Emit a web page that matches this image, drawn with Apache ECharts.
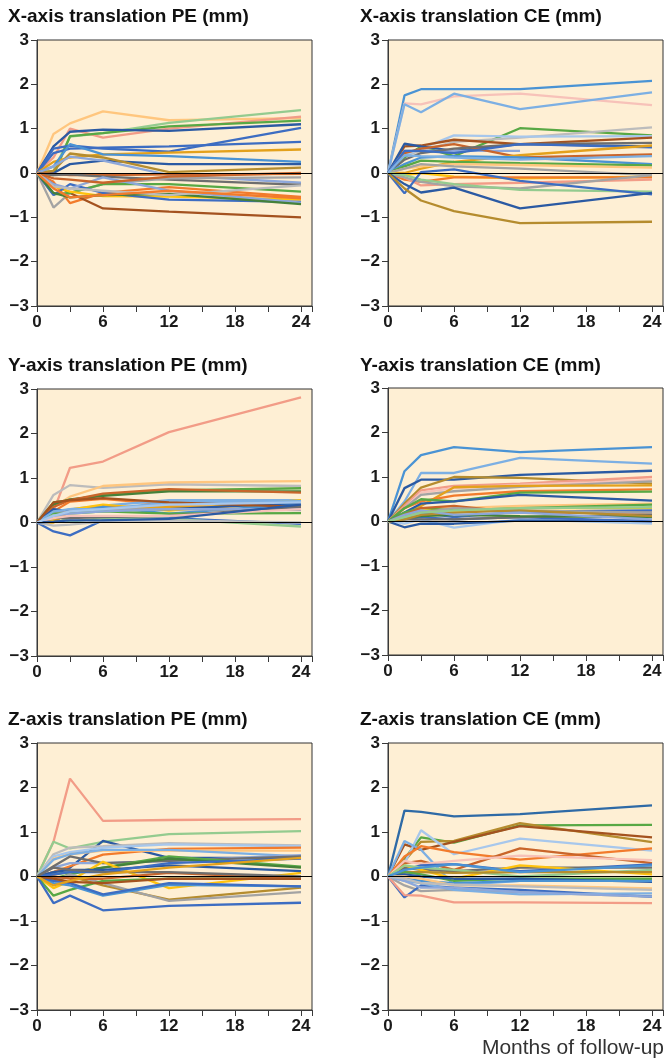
<!DOCTYPE html>
<html>
<head>
<meta charset="utf-8">
<script src="https://cdn.jsdelivr.net/npm/echarts@6/dist/echarts.min.js"></script>
<style>html,body{margin:0;padding:0;background:#fff}#c{width:668px;height:1063px}</style>
</head>
<body>
<div id="c"></div>
<script>
// ---------- data ----------
const months = [0, 1.5, 3, 6, 12, 24];
const xTickLabels = [0, 6, 12, 18, 24];
const yTickLabels = [-3, -2, -1, 0, 1, 2, 3];
const titles = [
  'X-axis translation PE (mm)', 'X-axis translation CE (mm)',
  'Y-axis translation PE (mm)', 'Y-axis translation CE (mm)',
  'Z-axis translation PE (mm)', 'Z-axis translation CE (mm)'
];
const xAxisName = 'Months of follow-up';

const xPE = [
  [0,0.88,1.12,1.39,1.19,1.24],[0,0.05,0.82,0.9,1.13,1.42],[0,0.35,1.0,0.8,1.0,1.27],
  [0,-0.05,0.83,0.9,1.05,1.18],[0,0.6,0.93,0.98,0.95,1.1],[0,0.55,0.62,0.55,0.48,1.02],
  [0,0.45,0.55,0.57,0.6,0.7],[0,0.25,0.35,0.42,0.46,0.53],[0,0.15,0.65,0.42,0.38,0.25],
  [0,0.0,0.2,0.28,0.2,0.2],[0,0.05,0.44,0.35,0.02,0.12],[0,0.15,0.37,0.28,-0.05,-0.22],
  [0,-0.02,-0.05,-0.05,-0.03,-0.02],[0,-0.05,-0.03,-0.08,-0.15,-0.27],[0,-0.78,-0.45,-0.25,-0.12,-0.1],
  [0,-0.2,-0.68,-0.45,-0.32,-0.54],[0,-0.25,-0.45,-0.8,-0.87,-1.0],[0,-0.48,-0.45,-0.25,-0.25,-0.42],
  [0,-0.3,-0.42,-0.52,-0.53,-0.6],[0,-0.5,-0.25,-0.45,-0.6,-0.65],[0,-0.25,-0.35,-0.1,-0.4,-0.67],
  [0,-0.45,-0.55,-0.5,-0.47,-0.7],[0,-0.12,-0.15,-0.22,-0.08,0.0],[0,-0.3,-0.35,-0.4,-0.5,-0.28],
  [0,-0.35,-0.55,-0.5,-0.4,-0.57]
];
const xPEColors = ['peach','lgreen','salmon','green','dblue','blue','blue','gold','sblue','dblue','olive','gblue',
  'brorange','dgray','gray','orange','brown','green','yellow','blue','gblue','dgreen','brorange','lgray','orange'];

const xCE = [
  [0,1.75,1.89,1.89,1.89,2.08],[0,1.57,1.55,1.73,1.79,1.53],[0,1.55,1.37,1.79,1.44,1.82],
  [0,0.35,0.6,0.38,1.01,0.85],[0,0.4,0.5,0.7,0.8,1.03],[0,0.4,0.55,0.85,0.82,0.83],
  [0,0.6,0.62,0.75,0.65,0.8],[0,0.66,0.6,0.5,0.65,0.6],[0,0.5,0.5,0.5,0.5,null],
  [0,0.45,0.55,0.65,0.35,0.42],[0,0.3,0.45,0.55,0.65,0.68],[0,0.5,0.5,0.45,0.65,0.58],
  [0,0.0,0.1,0.25,0.4,0.62],[0,0.2,0.35,0.38,0.35,0.2],[0,0.15,0.28,0.25,0.22,0.17],
  [0,0.1,0.15,0.2,0.18,0.12],[0,0.1,0.2,0.15,0.1,-0.05],[0,-0.05,0.0,-0.08,-0.12,-0.08],
  [0,-0.15,-0.2,-0.1,-0.1,-0.1],[0,-0.1,-0.28,-0.25,-0.22,-0.15],[0,-0.1,-0.2,-0.3,-0.35,-0.05],
  [0,-0.05,-0.15,-0.25,-0.38,-0.42],[0,-0.46,0.02,0.08,-0.18,-0.48],[0,-0.25,-0.44,-0.33,-0.8,-0.45],
  [0,-0.35,-0.62,-0.86,-1.13,-1.1],[0,0.4,0.38,0.35,0.3,0.38]
];
const xCEColors = ['sblue','pink','lblue','green','lgray','llblue','brown','dblue','gblue','brorange','dgray','blue',
  'gold','sblue','green','peach','gray','yellow','orange','salmon','gray','lgreen','blue','dblue','olive','lblue'];

const yPE = [
  [0,0.25,1.23,1.37,2.03,2.81],[0,0.62,0.84,0.78,0.86,0.82],[0,0.35,0.58,0.82,0.9,0.93],
  [0,0.45,0.5,0.62,0.72,0.77],[0,0.4,0.52,0.6,0.7,0.7],[0,0.35,0.5,0.65,0.75,0.67],
  [0,0.25,0.47,0.53,0.4,0.44],[0,0.2,0.3,0.38,0.5,0.5],[0,0.05,0.29,0.4,0.27,0.5],
  [0,0.0,0.25,0.35,0.35,0.38],[0,0.2,0.22,0.35,0.2,0.42],[0,0.3,0.25,0.3,0.3,0.44],
  [0,0.2,0.25,0.3,0.3,0.28],[0,0.2,0.2,0.25,0.2,0.21],[0,-0.2,-0.29,0.05,0.1,-0.03],
  [0,0.17,0.02,0.1,0.08,-0.09],[0,-0.07,-0.05,0.02,0.05,0.0],[0,0.15,0.2,0.25,0.3,0.3],
  [0,0.25,0.3,0.3,0.45,0.48],[0,0.45,0.5,0.55,0.45,0.35],[0,0.1,0.1,0.12,0.15,0.35],
  [0,0.1,0.15,0.15,0.15,0.3],[0,0.02,0.05,0.05,0.08,0.4],[0,0.15,0.25,0.3,0.4,0.45]
];
const yPEColors = ['salmon','lgray','peach','green','dgreen','brorange','orange','lblue','yellow','gold','sblue','dblue',
  'gray','green','blue','lgreen','lgray','gblue','lblue','brown','dgray','pink','dblue','llblue'];

const yCE = [
  [0,1.13,1.49,1.67,1.56,1.67],[0,0.45,1.09,1.09,1.43,1.3],[0,0.75,0.94,0.94,1.05,1.14],
  [0,0.4,0.76,1.0,0.98,0.85],[0,0.35,0.7,0.8,0.85,1.0],[0,0.3,0.65,0.75,0.82,0.93],
  [0,0.3,0.6,0.68,0.78,0.9],[0,0.15,0.35,0.77,0.8,0.81],[0,0.3,0.45,0.58,0.68,0.72],
  [0,0.3,0.5,0.45,0.65,0.67],[0,0.2,0.4,0.45,0.6,0.47],[0,0.15,0.3,0.3,0.35,0.4],
  [0,0.2,0.3,0.25,0.3,0.38],[0,0.1,0.25,0.22,0.3,0.3],[0,0.15,0.3,0.35,0.2,0.2],
  [0,0.1,0.2,0.1,0.22,0.25],[0,-0.05,0.05,-0.14,0.05,-0.05],[0,-0.13,-0.05,-0.05,0.02,0.02],
  [0,0.05,0.1,0.05,0.1,0.0],[0,0.05,0.05,0.05,0.1,0.15],[0,0.08,0.12,0.15,0.12,0.1],
  [0,0.1,0.2,0.3,0.25,0.2],[0,0.05,0.15,0.2,0.25,0.12],[0,0.15,0.25,0.15,0.2,0.05],
  [0,0.1,0.2,0.25,0.3,0.32]
];
const yCEColors = ['sblue','lblue','dblue','olive','salmon','pink','gray','gold','orange','green','dblue','peach',
  'green','yellow','brorange','blue','llblue','dblue','blue','dgray','dgreen','gray','olive','gblue','lgreen'];

const zPE = [
  [0,0.78,2.2,1.25,1.27,1.29],[0,0.78,0.63,0.78,0.95,1.02],[0,0.1,0.2,0.8,0.42,0.42],
  [0,0.5,0.65,0.68,0.75,0.7],[0,0.45,0.55,0.65,0.72,0.68],[0,0.1,0.23,0.49,0.62,0.65],
  [0,0.4,0.5,0.58,0.58,0.58],[0,0.38,0.5,0.6,0.6,0.45],[0,0.2,0.3,0.3,0.35,0.48],
  [0,0.23,0.45,0.3,0.35,0.45],[0,-0.05,0.05,0.2,0.45,0.22],[0,0.05,0.1,0.2,0.4,0.2],
  [0,-0.1,0.0,-0.2,-0.52,-0.25],[0,-0.1,0.05,-0.15,-0.55,-0.35],[0,-0.26,-0.1,0.33,-0.26,0.08],
  [0,-0.43,-0.3,-0.1,-0.05,-0.05],[0,-0.6,-0.43,-0.76,-0.66,-0.59],[0,-0.15,-0.2,-0.43,-0.19,-0.22],
  [0,-0.1,-0.15,-0.4,-0.15,-0.22],[0,0.0,-0.05,-0.05,0.08,-0.05],[0,-0.05,-0.12,-0.15,-0.05,-0.05],
  [0,0.1,0.15,0.15,0.25,0.12],[0,0.05,0.1,0.1,0.3,0.4],[0,0.2,0.15,0.1,0.1,0.0],
  [0,-0.2,-0.1,0.05,0.2,0.42]
];
const zPEColors = ['salmon','lgreen','dblue','lgray','llblue','orange','peach','lblue','gblue','dgray','green','dgreen',
  'olive','gray','yellow','green','blue','sblue','blue','brorange','brown','dblue','blue','dgray','gold'];

const zCE = [
  [0,1.48,1.45,1.35,1.4,1.6],[0,0.4,0.88,0.76,1.15,1.16],[0,0.35,0.78,0.8,1.2,0.77],
  [0,0.72,0.6,0.78,1.13,0.88],[0,0.3,1.04,0.5,0.85,0.58],[0,0.8,0.6,-0.2,-0.1,-0.08],
  [0,0.45,0.68,0.55,0.38,0.63],[0,0.3,0.35,0.15,0.63,0.3],[0,0.35,0.28,0.35,0.47,0.37],
  [0,0.15,0.25,0.28,0.12,0.27],[0,0.2,0.15,0.12,0.2,0.2],[0,0.25,0.15,-0.05,0.25,0.05],
  [0,0.25,0.2,0.15,0.0,0.15],[0,0.1,0.1,0.08,0.1,0.1],[0,0.1,0.05,-0.1,-0.05,-0.05],
  [0,0.05,0.0,-0.05,-0.05,-0.12],[0,-0.05,-0.1,-0.15,-0.1,-0.1],[0,0.0,-0.05,-0.2,-0.2,-0.27],
  [0,-0.2,-0.33,-0.3,-0.35,-0.45],[0,-0.47,-0.2,-0.25,-0.3,-0.45],[0,-0.1,-0.15,-0.3,-0.4,-0.38],
  [0,-0.42,-0.43,-0.58,-0.58,-0.6],[0,-0.1,-0.25,-0.25,-0.35,-0.45],[0,-0.05,-0.15,-0.18,-0.22,-0.3],
  [0,0.15,0.2,0.28,0.1,0.25]
];
const zCEColors = ['tblue','green','olive','brown','llblue','lblue','orange','brorange','pink','blue','dgray','yellow',
  'lgreen','olive','green','dblue','sblue','peach','gray','blue','lblue','salmon','gblue','lgray','sblue'];

// ---------- styles ----------
const palette = {
  blue:'#3D6DC2', dblue:'#2B5AA3', tblue:'#2E6AA6', sblue:'#4A93D4', lblue:'#7CAFE3', llblue:'#A7C7EC', gblue:'#8DA7DA',
  orange:'#F27B2C', brorange:'#C9652B', brown:'#A4521F', gold:'#E3A11C', yellow:'#FFC20E', olive:'#B58C2E',
  peach:'#FFC67E', salmon:'#F29C87', pink:'#F7C2B9',
  green:'#58A845', dgreen:'#45813A', lgreen:'#94CB8F',
  gray:'#A3A3A3', dgray:'#6E6E6E', lgray:'#BCBCBC'
};
const panels = [
  {data:xPE, colors:xPEColors}, {data:xCE, colors:xCEColors},
  {data:yPE, colors:yPEColors}, {data:yCE, colors:yCEColors},
  {data:zPE, colors:zPEColors}, {data:zCE, colors:zCEColors}
];
const layout = [
  {left:37, top:40, width:275, height:266, tx:8, ty:17},
  {left:388, top:40, width:275, height:266, tx:360, ty:17},
  {left:37, top:389, width:275, height:267, tx:8, ty:366},
  {left:388, top:388, width:275, height:267, tx:360, ty:366},
  {left:37, top:743, width:275, height:267, tx:8, ty:720},
  {left:388, top:743, width:275, height:267, tx:360, ty:720}
];

const FONT = '"Liberation Sans", Arial, Helvetica, sans-serif';
const axisColor = '#3a3a3a';
const grid = [], xAxis = [], yAxis = [], series = [], graphic = [];

panels.forEach((p, i) => {
  const L = layout[i];
  grid.push({left:L.left, top:L.top, width:L.width, height:L.height, show:true,
    backgroundColor:'#FEEFD4', borderColor:'#333', borderWidth:1});
  xAxis.push({type:'value', gridIndex:i, min:0, max:25, interval:3,
    axisLine:{show:true, onZero:false, lineStyle:{color:axisColor, width:1}},
    axisTick:{show:true, length:6, lineStyle:{color:axisColor}},
    splitLine:{show:false},
    axisLabel:{fontSize:17, fontWeight:'bold', color:'#1a1a1a', fontFamily:FONT, margin:8,
      formatter: v => xTickLabels.indexOf(v) >= 0 ? String(v) : ''}
  });
  yAxis.push({type:'value', gridIndex:i, min:-3, max:3, interval:1,
    axisLine:{show:true, onZero:false, lineStyle:{color:axisColor, width:1}},
    axisTick:{show:true, length:6, lineStyle:{color:axisColor}},
    splitLine:{show:false},
    axisLabel:{fontSize:17, fontWeight:'bold', color:'#1a1a1a', fontFamily:FONT, margin:8,
      formatter: v => yTickLabels.indexOf(v) >= 0 ? String(v).replace('-', '\u2212') : ''}
  });
  p.data.forEach((row, k) => {
    const s = {
      type:'line', xAxisIndex:i, yAxisIndex:i, symbol:'none', silent:true,
      data: months.map((m, j) => row[j] == null ? null : [m, row[j]]).filter(d => d),
      lineStyle:{color:palette[p.colors[k]], width:2.3},
      itemStyle:{color:palette[p.colors[k]]}
    };
    if (k === 0) {
      s.markLine = {silent:true, symbol:'none', label:{show:false},
        lineStyle:{color:'#000', width:1, type:'solid'}, data:[{yAxis:0}]};
    }
    series.push(s);
  });
  graphic.push({type:'text', x:L.tx, y:L.ty,
    style:{text:titles[i], fontSize:19, fontWeight:'bold', fontFamily:FONT, fill:'#111',
      align:'left', verticalAlign:'middle'}});
});
graphic.push({type:'text', x:664, y:1048,
  style:{text:xAxisName, fontSize:21, fontFamily:FONT, fill:'#333', align:'right', verticalAlign:'middle'}});

const chart = echarts.init(document.getElementById('c'));
chart.setOption({animation:false, backgroundColor:'#fff', grid, xAxis, yAxis, series, graphic});
</script>
</body>
</html>
